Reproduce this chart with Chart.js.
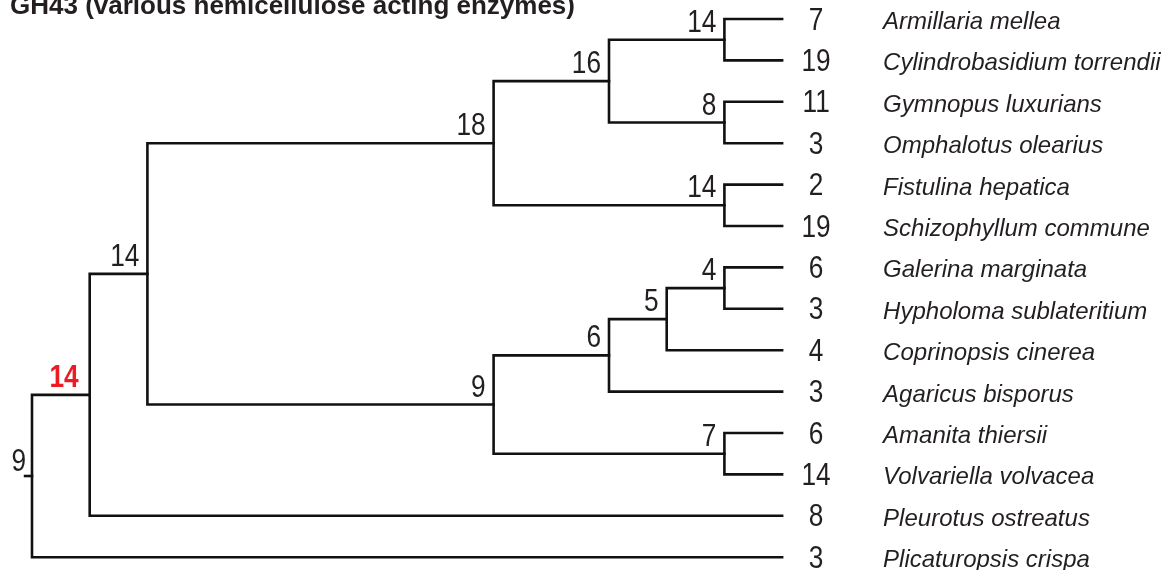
<!DOCTYPE html>
<html>
<head>
<meta charset="utf-8">
<script src="https://cdn.jsdelivr.net/npm/chart.js@4"></script>
<style>
  html, body { margin: 0; padding: 0; background: #ffffff; }
  #wrap { width: 1172px; height: 570px; position: relative; }
</style>
</head>
<body>
<div id="wrap"><canvas id="c"></canvas></div>
<script>
// ---- data ----
const title = "GH43 (various hemicellulose acting enzymes)";
const species = [
  "Armillaria mellea", "Cylindrobasidium torrendii", "Gymnopus luxurians",
  "Omphalotus olearius", "Fistulina hepatica", "Schizophyllum commune",
  "Galerina marginata", "Hypholoma sublateritium", "Coprinopsis cinerea",
  "Agaricus bisporus", "Amanita thiersii", "Volvariella volvacea",
  "Pleurotus ostreatus", "Plicaturopsis crispa"
];
const counts = [7, 19, 11, 3, 2, 19, 6, 3, 4, 3, 6, 14, 8, 3];
// internal nodes: label, depth in cladogram, children ("L#" = leaf, number = node)
const nodeLabels   = [9, 14, 14, 18, 16, 14, 8, 14, 9, 6, 5, 4, 7];
const nodeDepth    = [0, 1, 2, 8, 10, 12, 12, 12, 8, 10, 11, 12, 12];
const nodeChildren = [
  [1, "L13"], [2, "L12"], [3, 8], [4, 7], [5, 6], ["L0", "L1"], ["L2", "L3"],
  ["L4", "L5"], [9, 12], [10, "L9"], [11, "L8"], ["L6", "L7"], ["L10", "L11"]
];
const leafDepth = 13;
const highlightedNodes = [1];

// ---- derived tree geometry (data space) ----
function pos(ref) {
  if (typeof ref === "string") {
    const i = parseInt(ref.slice(1), 10);
    return { x: leafDepth, y: i };
  }
  const ch = nodeChildren[ref].map(pos);
  return { x: nodeDepth[ref], y: (ch[0].y + ch[ch.length - 1].y) / 2 };
}
const nodePos = nodeLabels.map((_, i) => pos(i));
const stubLen = 0.12;

const datasets = [];
nodeChildren.forEach((ch, i) => {
  const n = nodePos[i];
  const a = pos(ch[0]), b = pos(ch[ch.length - 1]);
  datasets.push({
    data: [{ x: a.x, y: a.y }, { x: n.x, y: a.y }, { x: n.x, y: b.y }, { x: b.x, y: b.y }]
  });
});
// root stub
datasets.push({ data: [{ x: nodePos[0].x - stubLen, y: nodePos[0].y }, { x: nodePos[0].x, y: nodePos[0].y }] });
datasets.forEach(d => Object.assign(d, {
  showLine: true, borderColor: "#111111", borderWidth: 2.6, pointRadius: 0,
  borderCapStyle: "square", borderJoinStyle: "miter", fill: false, tension: 0
}));

const TEXT = "#231f20";
const NUM_FONT = "32px 'Liberation Sans', Arial, sans-serif";
function narrowText(ctx, text, x, y, align, font, color) {
  ctx.save();
  ctx.translate(x, y);
  ctx.scale(0.82, 1);
  ctx.font = font;
  ctx.fillStyle = color;
  ctx.textAlign = align;
  ctx.textBaseline = "alphabetic";
  ctx.fillText(text, 0, 0);
  ctx.restore();
}

const labelPlugin = {
  id: "treeLabels",
  afterDraw(chart) {
    const ctx = chart.ctx, xs = chart.scales.x, ys = chart.scales.y;
    ctx.save();
    // title
    ctx.fillStyle = TEXT;
    ctx.font = "bold 26px 'Liberation Sans', Arial, sans-serif";
    ctx.textAlign = "left"; ctx.textBaseline = "alphabetic";
    ctx.fillText(title, 10, 14);
    // node labels
    nodeLabels.forEach((lab, i) => {
      const px = xs.getPixelForValue(nodePos[i].x), py = ys.getPixelForValue(nodePos[i].y);
      if (highlightedNodes.includes(i)) {
        narrowText(ctx, String(lab), px - 11, py - 8, "right",
          "bold 32px 'Liberation Sans', Arial, sans-serif", "#ed1c24");
      } else if (i === 0) {
        narrowText(ctx, String(lab), xs.getPixelForValue(nodePos[i].x - stubLen) + 1, py - 5, "right", NUM_FONT, TEXT);
      } else {
        narrowText(ctx, String(lab), px - 8, py - 8, "right", NUM_FONT, TEXT);
      }
    });
    // leaf counts & species
    species.forEach((name, i) => {
      const py = ys.getPixelForValue(i);
      const lx = xs.getPixelForValue(leafDepth);
      narrowText(ctx, String(counts[i]), lx + 34, py + 10.5, "center", NUM_FONT, TEXT);
      ctx.fillStyle = TEXT;
      ctx.font = "italic 24px 'Liberation Sans', Arial, sans-serif";
      ctx.textAlign = "left";
      ctx.textBaseline = "alphabetic";
      ctx.fillText(name, lx + 101, py + 10);
    });
    ctx.restore();
  }
};

new Chart(document.getElementById("c"), {
  type: "scatter",
  data: { datasets },
  options: {
    responsive: true, maintainAspectRatio: false, animation: false,
    layout: { padding: 0 },
    plugins: { legend: { display: false }, tooltip: { enabled: false } },
    scales: {
      x: { type: "linear", display: false, min: -32 / 57.7, max: (1172 - 32) / 57.7 },
      y: { type: "linear", display: false, reverse: true, min: -19 / 41.4, max: (570 - 19) / 41.4 }
    }
  },
  plugins: [labelPlugin]
});
</script>
</body>
</html>
